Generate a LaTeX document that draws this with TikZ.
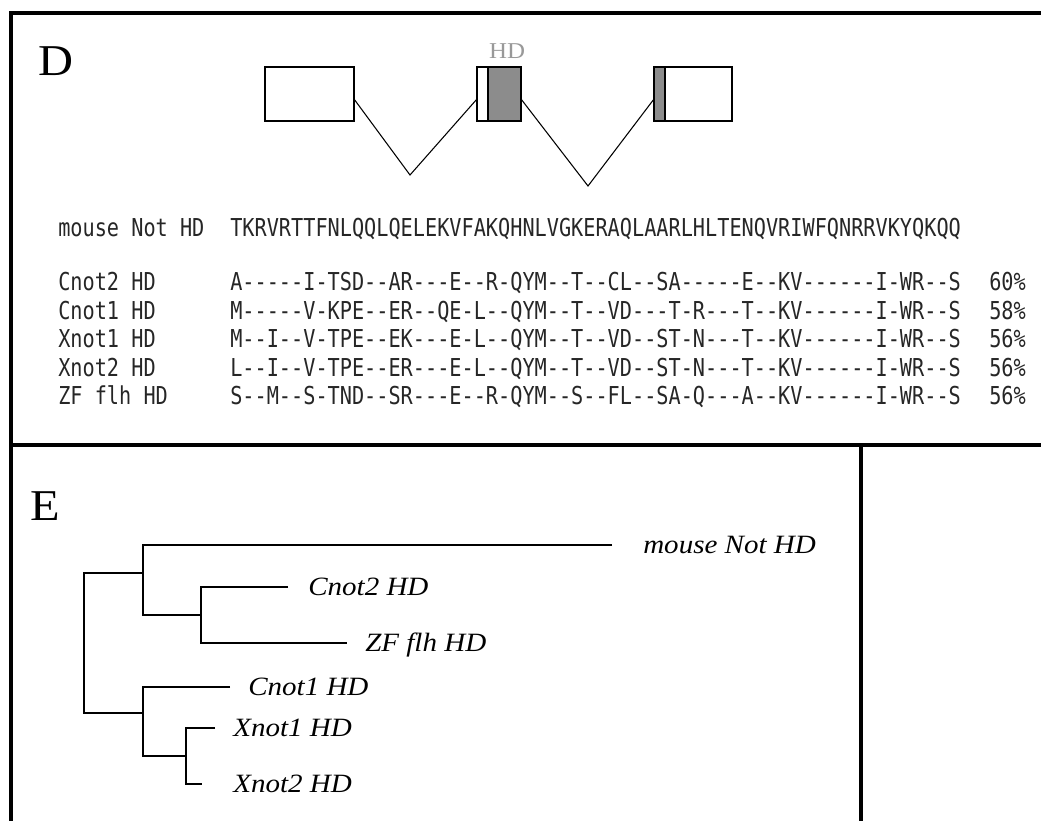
\documentclass[tikz,border=0pt]{standalone}
\usepackage{fontspec}
\newfontfamily\labelfont{Liberation Serif}[FakeStretch=1.1]
\newfontfamily\seqfont{DejaVu Sans Mono}[FakeStretch=0.82]
\usetikzlibrary{positioning}

\begin{document}
\begin{tikzpicture}[x=0.75pt,y=-0.75pt,
		frame/.style={line width=2.4pt},
		exon/.style={draw,line width=0.9pt,minimum height=54*0.75pt,inner sep=0pt,outer sep=0pt},
		intron/.style={line width=0.8pt},
		branch/.style={line width=1.5pt},
		seq/.style={anchor=base west,inner sep=0pt,text=black!85,font=\seqfont\fontsize{18.5}{20}\selectfont},
		leaf/.style={anchor=base west,inner sep=0pt,font=\labelfont\itshape\fontsize{19.8}{22}\selectfont},
		panel/.style={anchor=base west,inner sep=0pt,font=\labelfont\fontsize{33}{36}\selectfont}]
		\useasboundingbox (0,0) rectangle (1041,820);
		% panel frames
		\draw[frame] (11,830) -- (11,13) -- (1050,13);
		\draw[frame] (11,445) -- (1050,445);
		\draw[frame] (861,445) -- (861,830);
		\node[panel] (pD) at (38,76) {D};
		\node[panel] (pE) at (30,520) {E};
		% exons, the homeodomain shaded
		\node[exon,anchor=north west,minimum width=89*0.75pt] (ex1) at (265,67) {};
		\node[exon,anchor=north west,minimum width=11*0.75pt] (ex2a) at (477,67) {};
		\node[exon,fill=black!45,right=0pt of ex2a,minimum width=33*0.75pt] (ex2b) {};
		\node[exon,anchor=north west,fill=black!45,minimum width=11*0.75pt] (ex3a) at (654,67) {};
		\node[exon,right=0pt of ex3a,minimum width=67*0.75pt] (ex3b) {};
		\node[anchor=base,inner sep=0pt,text=black!40,font=\labelfont\fontsize{17}{19}\selectfont] (hd) at (507,59) {HD};
		% introns
		\coordinate (i1) at (410,175);
		\coordinate (i2) at (588,186);
		\draw[intron] ([yshift=-3.75pt]ex1.east) -- (i1) -- ([yshift=-3.75pt]ex2a.west);
		\draw[intron] ([yshift=-3.75pt]ex2b.east) -- (i2) -- ([yshift=-3.75pt]ex3a.west);
		% alignment
		\node[seq] (lab0) at (58,236) {mouse Not HD};
		\node[seq] (seq0) at (230,236) {TKRVRTTFNLQQLQELEKVFAKQHNLVGKERAQLAARLHLTENQVRIWFQNRRVKYQKQQ};
		\foreach \nm/\sq/\pc [count=\i] in {
			Cnot2 HD/A-----I-TSD--AR---E--R-QYM--T--CL--SA-----E--KV------I-WR--S/60,
			Cnot1 HD/M-----V-KPE--ER--QE-L--QYM--T--VD---T-R---T--KV------I-WR--S/58,
			Xnot1 HD/M--I--V-TPE--EK---E-L--QYM--T--VD--ST-N---T--KV------I-WR--S/56,
			Xnot2 HD/L--I--V-TPE--ER---E-L--QYM--T--VD--ST-N---T--KV------I-WR--S/56,
			ZF flh HD/S--M--S-TND--SR---E--R-QYM--S--FL--SA-Q---A--KV------I-WR--S/56}{
			\node[seq] (lab\i) at (58,262+28.5*\i) {\nm};
			\node[seq] (seq\i) at (230,262+28.5*\i) {\sq};
			\node[seq] (pct\i) at (989,262+28.5*\i) {\pc\%};
		}
		% tree
		\coordinate (r1) at (84,573);
		\coordinate (r2) at (84,713);
		\coordinate (a1) at (143,545);
		\coordinate (a2) at (143,615);
		\coordinate (b1) at (201,587);
		\coordinate (b2) at (201,643);
		\coordinate (c1) at (143,687);
		\coordinate (c2) at (143,756);
		\coordinate (d1) at (186,728);
		\coordinate (d2) at (186,784);
		\coordinate (tmouse) at (612,545);
		\coordinate (tcnot2) at (288,587);
		\coordinate (tzf) at (347,643);
		\coordinate (tcnot1) at (230,687);
		\coordinate (txnot1) at (215,728);
		\coordinate (txnot2) at (202,784);
		\draw[branch] (a1 |- r1) -- (r1) -- (r2) -- (c1 |- r2);
		\draw[branch] (tmouse) -- (a1) -- (a2) -- (b1 |- a2);
		\draw[branch] (tcnot2) -- (b1) -- (b2) -- (tzf);
		\draw[branch] (tcnot1) -- (c1) -- (c2) -- (d1 |- c2);
		\draw[branch] (txnot1) -- (d1) -- (d2) -- (txnot2);
		\node[leaf] (lmouse) at (643,553.5) {mouse Not HD};
		\node[leaf] (lcnot2) at (308,595.5) {Cnot2 HD};
		\node[leaf] (lzf) at (365,651.5) {ZF flh HD};
		\node[leaf] (lcnot1) at (248,695.5) {Cnot1 HD};
		\node[leaf] (lxnot1) at (233,736.5) {Xnot1 HD};
		\node[leaf] (lxnot2) at (233,792.5) {Xnot2 HD};
	\end{tikzpicture}
\end{document}
